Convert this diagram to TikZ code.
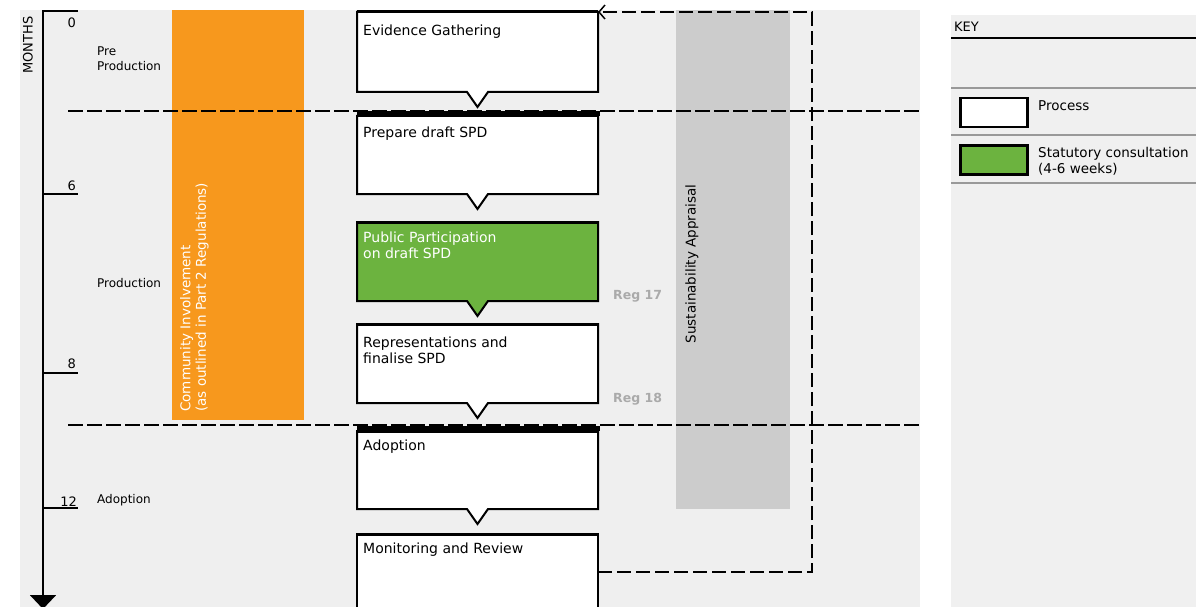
\documentclass[tikz,border=0pt]{standalone}
\usepackage{fontspec}
\setmainfont{DejaVu Sans}
\usetikzlibrary{arrows.meta}
\definecolor{panel}{HTML}{EFEFEF}
\definecolor{keypanel}{HTML}{F0F0F0}
\definecolor{orangebar}{HTML}{F7981D}
\definecolor{graybar}{HTML}{CCCCCC}
\definecolor{spdgreen}{HTML}{6CB33F}
\definecolor{reggray}{HTML}{AAAAAA}
\definecolor{keyline}{HTML}{999999}
\newcommand{\spdbox}[2]{%
  \filldraw[boxline, fill=#2] (#1.north west) -- (#1.north east) -- (#1.south east)
    -- ([xshift=10.5pt]#1.south) -- ([yshift=-15pt]#1.south) -- ([xshift=-10.5pt]#1.south)
    -- (#1.south west) -- cycle;
  \draw[line width=3pt] (#1.north west) -- (#1.north east);}
\begin{document}
\begin{tikzpicture}[x=1pt,y=-1pt,
  boxshape/.style={rectangle, draw=none, inner sep=0pt, outer sep=0pt, anchor=north west, minimum width=241pt},
  boxline/.style={draw=black, line width=2pt, line join=miter},
  boxtext/.style={anchor=north west, inner sep=0pt, align=left, font=\fontsize{14}{16}\selectfont},
  sidetext/.style={anchor=west, inner sep=0pt, align=left, font=\fontsize{12}{15}\selectfont},
  numtext/.style={anchor=base east, inner sep=0pt, font=\fontsize{13}{15}\selectfont},
  divider/.style={line width=1.5pt, dash pattern=on 15pt off 4pt},
  fbline/.style={line width=2pt, dash pattern=on 14pt off 5pt},
  regtext/.style={anchor=west, inner sep=0pt, text=reggray, font=\bfseries\fontsize{12.5}{14}\selectfont},
  keytext/.style={anchor=west, inner sep=0pt, align=left, font=\fontsize{13.5}{16}\selectfont},
  keybox/.style={rectangle, draw=black, line width=2.5pt, anchor=north west, inner sep=0pt, minimum width=67pt, minimum height=29pt},
  tick/.style={line width=2pt}
]
\useasboundingbox (0,0) rectangle (1196,607);
\clip (0,0) rectangle (1196,607);
\fill[white] (0,0) rectangle (1196,607);
% panels
\fill[panel] (20,10) rectangle (920,607);
\fill[keypanel] (951,15) rectangle (1196,607);
% bars
\fill[orangebar] (172,10) rectangle (304,420);
\fill[graybar] (676,10) rectangle (790,509);
\node[rotate=90, anchor=north west, inner sep=0pt, align=left, text=white,
      font=\fontsize{13.5}{15.5}\selectfont] (ci) at (180,412)
      {Community Involvement\\(as outlined in Part 2 Regulations)};
\node[rotate=90, inner sep=0pt, font=\fontsize{13.5}{16}\selectfont] (sa) at (692,264) {Sustainability Appraisal};
% dividers
\coordinate (d1l) at (68,111); \coordinate (d1r) at (920,111);
\coordinate (d2l) at (68,425); \coordinate (d2r) at (920,425);
\draw[divider] (d1l) -- (d1r);
\draw[divider] (d2l) -- (d2r);
% timeline
\coordinate (t0) at (43,11); \coordinate (t0r) at (78,11);
\coordinate (tend) at (43,609);
\draw[line width=2pt, -{Triangle[width=26pt,length=14pt]}] (t0r) -- (t0) -- (tend);
\coordinate (t6) at (43,194); \coordinate (t6r) at (78,194);
\coordinate (t8) at (43,373); \coordinate (t8r) at (78,373);
\coordinate (t12) at (43,508); \coordinate (t12r) at (78,508);
\draw[tick] (t6) -- (t6r);
\draw[tick] (t8) -- (t8r);
\draw[tick] (t12) -- (t12r);
\node[numtext] (n0) at (76,28) {0};
\node[numtext] (n6) at (76,190) {6};
\node[numtext] (n8) at (76,368) {8};
\node[numtext] (n12) at (77,506) {12};
\node[rotate=90, inner sep=0pt, font=\fontsize{13}{15}\selectfont] (months) at (28,45) {MONTHS};
\node[sidetext] (pre) at (97,59) {Pre\\Production};
\node[sidetext] (prod) at (97,283) {Production};
\node[sidetext] (adop) at (97,500) {Adoption};
% process boxes
\node[boxshape, minimum height=80pt] (ev) at (357,12) {};
\node[boxshape, minimum height=78pt] (prep) at (357,116) {};
\node[boxshape, minimum height=79pt] (pub) at (357,222) {};
\node[boxshape, minimum height=79pt] (rep) at (357,324) {};
\node[boxshape, minimum height=78pt] (ado) at (357,431) {};
\node[boxshape, minimum height=90pt] (mon) at (357,534) {};
\spdbox{ev}{white}
\spdbox{prep}{white}
\spdbox{pub}{spdgreen}
\spdbox{rep}{white}
\spdbox{ado}{white}
\filldraw[boxline, fill=white] (mon.north west) rectangle (mon.south east);
\draw[line width=3pt] (mon.north west) -- (mon.north east);
\draw[line width=5pt] ([yshift=2.5pt]prep.north west) -- ([xshift=2pt,yshift=2.5pt]prep.north east);
\draw[line width=5pt] ([yshift=2.5pt]ado.north west) -- ([xshift=2pt,yshift=2.5pt]ado.north east);
\node[boxtext] (evt) at (363,25) {Evidence Gathering};
\node[boxtext] (prept) at (363,126.5) {Prepare draft SPD};
\node[boxtext, text=white] (pubt) at (363,231.5) {Public Participation\\on draft SPD};
\node[boxtext] (rept) at (363,336.5) {Representations and\\finalise SPD};
\node[boxtext] (adot) at (363,439.5) {Adoption};
\node[boxtext] (mont) at (363,542.5) {Monitoring and Review};
\node[regtext] (r17) at (613,296) {Reg 17};
\node[regtext] (r18) at (613,399) {Reg 18};
% feedback loop
\coordinate (fb1) at (812,572);
\coordinate (fb2) at (812,12);
\draw[fbline, -{Straight Barb[length=6pt,width=14pt,line width=1.5pt]}]
  ([yshift=-38pt]mon.north east) -- (fb1) -- (fb2) -- (ev.north east);
% key
\node[anchor=base west, inner sep=0pt, font=\fontsize{13}{15}\selectfont] (key) at (954,32) {KEY};
\draw[line width=1.5pt] (951,38) -- (1196,38);
\draw[keyline, line width=1.5pt] (951,88) -- (1196,88);
\draw[keyline, line width=1.5pt] (951,135) -- (1196,135);
\draw[keyline, line width=1.5pt] (951,183) -- (1196,183);
\node[keybox, fill=white] (kproc) at (959,97) {};
\node[keybox, fill=spdgreen] (kstat) at (959,144) {};
\node[keytext] (kproct) at (1038,106) {Process};
\node[keytext, anchor=north west] (kstatt) at (1038,147) {Statutory consultation\\(4-6 weeks)};
\end{tikzpicture}
\end{document}
